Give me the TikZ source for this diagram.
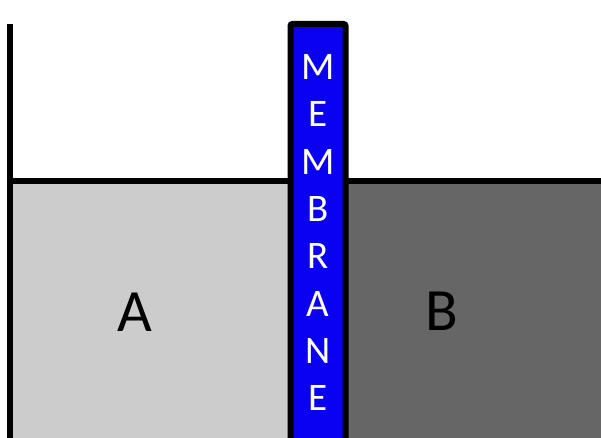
\documentclass[tikz,border=0pt]{standalone}
\usepackage{fontspec}
\setmainfont{Carlito}
\definecolor{lightfill}{HTML}{CCCCCC}
\definecolor{darkfill}{HTML}{666666}
\definecolor{membblue}{HTML}{0A00F2}
\begin{document}
\begin{tikzpicture}[x=1pt,y=1pt,
  wall/.style={line width=6pt, black},
  membletter/.style={text=white, inner sep=0pt, font=\fontsize{39}{39}\selectfont},
  sidelabel/.style={text=black, inner sep=0pt, font=\fontsize{60}{60}\selectfont}]
\useasboundingbox (0,0) rectangle (601,438);
\clip (0,0) rectangle (601,438);
\fill[lightfill] (10,0) rectangle (290,257);
\fill[darkfill] (345,0) rectangle (601,257);
\draw[wall] (10,414) -- (10,-5);
\draw[wall] (10,257) -- (290,257);
\draw[wall] (345,257) -- (601,257);
\draw[wall, fill=membblue, rounded corners=2pt] (290.5,-10) -- (290.5,414) -- (345.5,414) -- (345.5,-10);
\foreach \ch [count=\i from 0] in {M,E,M,B,R,A,N,E}{
  \node[membletter] (m\i) at (318, {438-(67+47.3*\i)}) {\ch};
}
\node[sidelabel] (A) at (135,126) {A};
\node[sidelabel] (B) at (442,127) {B};
\end{tikzpicture}
\end{document}
